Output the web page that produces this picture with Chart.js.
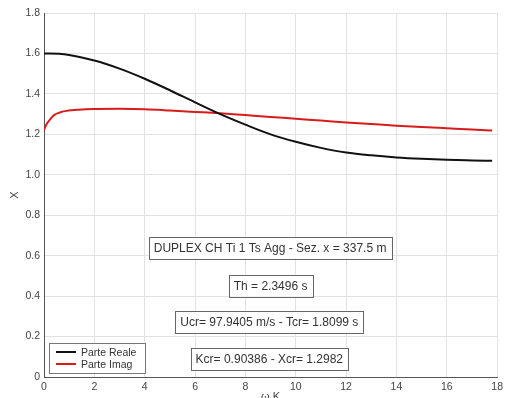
<!DOCTYPE html>
<html>
<head>
<meta charset="utf-8">
<script src="https://cdn.jsdelivr.net/npm/chart.js@4/dist/chart.umd.min.js"></script>
<style>
  html, body { margin: 0; padding: 0; background: #fff; overflow: hidden; }
  #wrap { width: 507px; height: 410px; }
</style>
</head>
<body>
<div id="wrap"><canvas id="chart" width="507" height="410"></canvas></div>
<script>
// values
const realK = [0, 0.6, 1, 2, 3, 4, 5, 6, 7, 8, 9, 10, 11, 12, 13, 14, 15, 16, 17, 17.8];
const realX = [1.600, 1.598, 1.592, 1.565, 1.525, 1.475, 1.418, 1.358, 1.300, 1.248, 1.200, 1.163, 1.133, 1.110, 1.096, 1.086, 1.079, 1.074, 1.071, 1.069];
const imagK = [0, 0.1, 0.25, 0.4, 0.6, 0.9, 1.4, 2, 3, 4, 5, 6, 7, 8, 9, 10, 11, 12, 13, 14, 15, 16, 17, 17.8];
const imagX = [1.222, 1.250, 1.275, 1.295, 1.307, 1.316, 1.322, 1.325, 1.326, 1.324, 1.318, 1.311, 1.304, 1.295, 1.286, 1.277, 1.268, 1.259, 1.251, 1.243, 1.236, 1.230, 1.224, 1.219];
const seriesNames = ['Parte Reale', 'Parte Imag'];
const yTicks = [0, 0.2, 0.4, 0.6, 0.8, 1, 1.2, 1.4, 1.6, 1.8];
const xTicks = [0, 2, 4, 6, 8, 10, 12, 14, 16, 18];

// text boxes: label and position (data units)
const noteText = [
    'DUPLEX CH Ti 1 Ts Agg - Sez. x = 337.5 m',
    'Th = 2.3496 s',
    'Ucr= 97.9405 m/s - Tcr= 1.8099 s',
    'Kcr= 0.90386 - Xcr= 1.2982'
];
const noteK = [8.98, 9.0, 8.95, 8.95];
const noteY = [0.64, 0.452, 0.272, 0.09];

const FONT = '"Liberation Sans", Arial, sans-serif';

function pts(xs, ys) {
    return xs.map((x, i) => ({ x: x, y: ys[i] }));
}

const notesPlugin = {
    id: 'notes',
    afterDatasetsDraw(chart) {
        const ctx = chart.ctx;
        const xs = chart.scales.x, ys = chart.scales.y;
        ctx.save();
        ctx.font = '12px ' + FONT;
        ctx.textBaseline = 'middle';
        ctx.textAlign = 'center';
        noteText.forEach((t, i) => {
            const cx = xs.getPixelForValue(noteK[i]);
            const cy = ys.getPixelForValue(noteY[i]);
            const w = ctx.measureText(t).width + 10;
            const h = 22;
            ctx.fillStyle = '#fff';
            ctx.fillRect(cx - w / 2, cy - h / 2, w, h);
            ctx.strokeStyle = '#666';
            ctx.lineWidth = 1;
            ctx.strokeRect(Math.round(cx - w / 2) + 0.5, Math.round(cy - h / 2) + 0.5, Math.round(w), h);
            ctx.fillStyle = '#333';
            ctx.fillText(t, cx, cy + 1);
        });

        // legend, bottom left of the axes
        const a = chart.chartArea;
        const lx = a.left + 5, ly = a.bottom - 34;
        ctx.fillStyle = '#fff';
        ctx.fillRect(lx, ly, 96, 30);
        ctx.strokeStyle = '#777';
        ctx.strokeRect(lx + 0.5, ly + 0.5, 96, 30);
        ctx.font = '10.5px ' + FONT;
        ctx.textAlign = 'left';
        chart.data.datasets.forEach((ds, i) => {
            const y = ly + 9 + i * 12;
            ctx.strokeStyle = ds.borderColor;
            ctx.lineWidth = 2;
            ctx.beginPath();
            ctx.moveTo(lx + 7, y);
            ctx.lineTo(lx + 27, y);
            ctx.stroke();
            ctx.fillStyle = '#333';
            ctx.fillText(ds.label, lx + 32, y + 1);
        });
        ctx.restore();
    }
};

new Chart(document.getElementById('chart'), {
    type: 'line',
    data: {
        datasets: [{
            label: seriesNames[0],
            data: pts(realK, realX),
            borderColor: '#111111',
            borderWidth: 2,
            pointRadius: 0,
            cubicInterpolationMode: 'monotone'
        }, {
            label: seriesNames[1],
            data: pts(imagK, imagX),
            borderColor: '#d81c1c',
            borderWidth: 2,
            pointRadius: 0,
            cubicInterpolationMode: 'monotone'
        }]
    },
    options: {
        responsive: false,
        animation: false,
        layout: { padding: { left: 0, right: 6, top: 13, bottom: 0 } },
        plugins: { legend: { display: false }, tooltip: { enabled: false } },
        scales: {
            x: {
                type: 'linear',
                min: 0, max: 18,
                afterBuildTicks: (s) => { s.ticks = xTicks.map(v => ({ value: v })); },
                afterFit: (s) => { s.height = 33; },
                grid: { color: '#e2e2e2', tickLength: 0, drawTicks: false },
                border: { color: '#555', width: 1 },
                ticks: { color: '#444', font: { family: FONT, size: 10.5 }, padding: 4, maxRotation: 0 },
                title: { display: true, text: 'ω K', color: '#444', font: { family: FONT, size: 11 }, padding: { top: 0, bottom: 6 } }
            },
            y: {
                min: 0, max: 1.8,
                afterBuildTicks: (s) => { s.ticks = yTicks.map(v => ({ value: v })); },
                afterFit: (s) => { s.width = 44; },
                grid: { color: '#e2e2e2', tickLength: 0, drawTicks: false },
                border: { color: '#555', width: 1 },
                ticks: { color: '#444', font: { family: FONT, size: 10.5 }, padding: 4 },
                title: { display: true, text: 'X', color: '#444', font: { family: FONT, size: 11 }, padding: { top: 8, bottom: 4 } }
            }
        }
    },
    plugins: [notesPlugin]
});
</script>
</body>
</html>
